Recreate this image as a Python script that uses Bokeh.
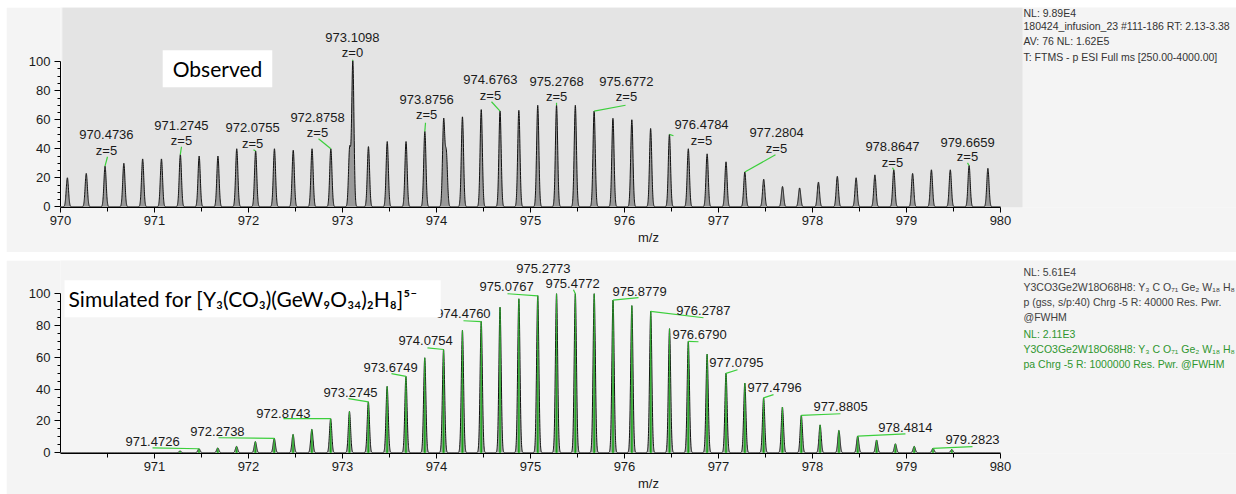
import numpy as np
from bokeh.plotting import figure
from bokeh.models import Range1d, FixedTicker, Label, BoxAnnotation
from bokeh.layouts import column
from bokeh.core.properties import value
from bokeh.embed import file_html
from bokeh.resources import INLINE

# ---------------- data: observed spectrum (peak centroids, relative intensity) ----------------
obs_mz = [970.073, 970.274, 970.474, 970.674, 970.874, 971.074, 971.275, 971.475, 971.675, 971.875,
          972.076, 972.276, 972.476, 972.676, 972.876, 973.076, 973.110, 973.276, 973.476, 973.676,
          973.876, 974.076, 974.105, 974.276, 974.476, 974.676, 974.876, 975.077, 975.277, 975.477,
          975.677, 975.877, 976.078, 976.278, 976.478, 976.679, 976.879, 977.080, 977.280, 977.481,
          977.681, 977.863, 978.063, 978.264, 978.464, 978.664, 978.865, 979.065, 979.265, 979.466,
          979.666, 979.866]
obs_int = [20, 23, 28, 30, 33, 33, 36, 35, 35, 40,
           38.5, 40, 39, 40, 40, 40, 100, 41.5, 45, 45,
           52, 59, 36, 62, 67, 66, 66.5, 70, 70, 70,
           66, 61, 60, 54, 50, 40, 36.5, 31, 24, 19,
           14, 13, 17, 21, 20, 22, 25.5, 23, 25.5, 25.5,
           28.5, 26.5]
obs_label_mz = ["970.4736", "971.2745", "972.0755", "972.8758", "973.1098", "973.8756", "974.6763",
                "975.2768", "975.6772", "976.4784", "977.2804", "978.8647", "979.6659"]
obs_label_z = ["z=5", "z=5", "z=5", "z=5", "z=0", "z=5", "z=5", "z=5", "z=5", "z=5", "z=5", "z=5", "z=5"]

# ---------------- data: simulated spectrum ----------------
sim_mz = [971.272, 971.473, 971.673, 971.873, 972.073, 972.274, 972.474, 972.674, 972.874, 973.074,
          973.275, 973.475, 973.675, 973.875, 974.075, 974.276, 974.476, 974.676, 974.876, 975.077,
          975.277, 975.477, 975.678, 975.878, 976.078, 976.279, 976.479, 976.679, 976.879, 977.080,
          977.280, 977.480, 977.680, 977.881, 978.081, 978.281, 978.481, 978.682, 978.882, 979.082,
          979.282, 979.482]
sim_int = [1, 2.5, 3, 4, 7, 9, 11.5, 14.7, 21.4, 26,
           32, 41.7, 48, 59.7, 65, 77, 82.5, 91.5, 96.8, 98.8,
           100, 100, 100, 96, 92.5, 89, 78, 70, 62, 50,
           43.8, 34.5, 28.7, 23.5, 17.5, 14, 10.5, 8, 5.6, 4,
           2.7, 2]
sim_label_mz = ["971.4726", "972.2738", "972.8743", "973.2745", "973.6749", "974.0754", "974.4760",
                "975.0767", "975.2773", "975.4772", "975.8779", "976.2787", "976.6790", "977.0795",
                "977.4796", "977.8805", "978.4814", "979.2823"]

# axis ticks
top_x_ticks = [970, 971, 972, 973, 974, 975, 976, 977, 978, 979, 980]
bot_x_ticks = [971, 972, 973, 974, 975, 976, 977, 978, 979, 980]
x_minor_ticks = [970.5, 971.5, 972.5, 973.5, 974.5, 975.5, 976.5, 977.5, 978.5, 979.5]
y_ticks = [0, 20, 40, 60, 80, 100]
y_minor_ticks = [5, 10, 15, 25, 30, 35, 45, 50, 55, 65, 70, 75, 85, 90, 95]

top_info = ["NL: 9.89E4",
            "180424_infusion_23 #111-186  RT: 2.13-3.38",
            "AV: 76 NL: 1.62E5",
            " T: FTMS - p ESI Full ms [250.00-4000.00]"]
bot_info = ["NL: 5.61E4",
            "Y3CO3Ge2W18O68H8:  Y\u2083 C O\u2087\u2081 Ge\u2082 W\u2081\u2088 H\u2088",
            "p (gss, s/p:40) Chrg -5 R: 40000 Res. Pwr.",
            "@FWHM",
            "NL: 2.11E3",
            "Y3CO3Ge2W18O68H8:  Y\u2083 C O\u2087\u2081 Ge\u2082 W\u2081\u2088 H\u2088",
            "pa Chrg -5 R: 1000000 Res. Pwr. @FWHM"]

# ---------------- layout of annotations (data units) ----------------
obs_lab_x = [970.489, 971.287, 972.043, 972.734, 973.106, 973.894, 974.574, 975.277, 976.021,
             976.819, 977.617, 978.851, 979.649]
obs_lab_y1 = [49.7, 55.9, 54.5, 61.4, 116.6, 73.8, 87.6, 86.2, 86.2, 56.6, 51.0, 41.4, 44.1]
obs_lab_y2 = [38.6, 45.5, 43.5, 51.0, 106.2, 63.4, 76.6, 75.9, 75.9, 45.5, 40.0, 30.3, 34.5]
obs_lead_x = [970.500, 971.287, 972.053, 972.745, 973.106, 973.883, 974.585, 975.277, 976.011,
              976.521, 977.606, 978.851, 979.649]
obs_lead_y = [34.5, 41.4, 39.3, 46.9, 101.4, 57.9, 72.4, 71.7, 70.0, 49.0, 35.9, 26.9, 30.3]
top_info_y = [133.4, 124.4, 114.0, 103.6]

sim_lab_x = [970.979, 971.670, 972.372, 973.085, 973.511, 973.883, 974.287, 974.745, 975.138,
             975.447, 976.160, 976.840, 976.798, 977.191, 977.596, 978.298, 978.989, 979.702]
sim_lab_y = [7.1, 13.2, 24.5, 37.7, 53.5, 70.4, 87.4, 104.4, 115.6,
             106.3, 101.3, 89.3, 74.2, 56.6, 40.9, 28.9, 15.7, 8.2]
sim_lead_x = [970.979, 971.681, 972.372, 973.064, 973.521, 973.904, 974.287, 974.755, None,
              975.457, 976.149, 976.840, 976.787, 977.202, 977.585, 978.298, 978.989, 979.702]
sim_lead_y = [3.1, 9.4, 21.4, 34.0, 49.7, 66.0, 83.0, 100.0, None,
              102.5, 97.5, 84.9, 69.8, 52.2, 36.5, 24.5, 11.9, 3.8]
bot_info_y = [113.8, 104.4, 95.0, 85.5, 74.8, 65.4, 56.0]
bot_info_colors = ["#404040"] * 4 + ["#2f962f"] * 3

# ---------------- styling constants ----------------
PANEL = "#f4f4f4"
PLOTBG = "#e4e4e4"
TXT = "#1a1a1a"
LEAD = "#3ccf3c"
FONT = "Liberation Sans"
X_END = 970 + (1236 - 60) / 94.0   # frame runs to the right edge of the page
INFO_X = 970 + (1023 - 60) / 94.0

grid = np.arange(970.0, 980.0005, 0.001)


def profile(centers, heights, sigma):
    c = np.asarray(centers, dtype=float)[:, None]
    h = np.asarray(heights, dtype=float)[:, None]
    return (h * np.exp(-0.5 * ((grid[None, :] - c) / sigma) ** 2)).sum(axis=0)


def style_axes(p, xt):
    p.xaxis.ticker = FixedTicker(ticks=xt, minor_ticks=x_minor_ticks)
    p.yaxis.ticker = FixedTicker(ticks=y_ticks, minor_ticks=y_minor_ticks)
    p.xaxis.bounds = (970, 980)
    p.yaxis.bounds = (0, 100)
    for ax in (p.xaxis, p.yaxis):
        ax.axis_line_color = "black"
        ax.major_tick_line_color = "black"
        ax.minor_tick_line_color = "black"
        ax.major_tick_in = 0
        ax.minor_tick_in = 0
        ax.major_label_text_font = FONT
        ax.major_label_text_font_size = "13px"
        ax.major_label_text_color = TXT
    p.xaxis.major_tick_out = 5
    p.xaxis.minor_tick_out = 4
    p.xaxis.major_label_standoff = 3
    p.xaxis.axis_label = "m/z"
    p.xaxis.axis_label_text_font = FONT
    p.xaxis.axis_label_text_font_size = "13px"
    p.xaxis.axis_label_text_font_style = "normal"
    p.xaxis.axis_label_text_color = TXT
    p.xaxis.axis_label_standoff = 2
    p.yaxis.major_tick_out = 6
    p.yaxis.minor_tick_out = 3
    p.yaxis.major_label_standoff = 4
    p.xgrid.visible = False
    p.ygrid.visible = False
    p.outline_line_color = None


# ================= top panel: observed =================
p1 = figure(width=1230, height=245, x_range=Range1d(970, X_END), y_range=Range1d(-0.5, 137.4),
            output_backend="svg", toolbar_location=None,
            min_border_left=54, min_border_right=0, min_border_top=0, min_border_bottom=45)
p1.margin = (7, 0, 0, 6)
p1.background_fill_color = PANEL
p1.border_fill_color = PANEL
style_axes(p1, top_x_ticks)
p1.add_layout(BoxAnnotation(left=970.02, right=980.234, bottom=-0.5, top=137.4, fill_color=PLOTBG,
                            fill_alpha=1.0, line_alpha=0, level="underlay"))

obs_prof = profile(obs_mz, obs_int, 0.012)
p1.varea(x=grid, y1=0, y2=obs_prof, fill_color="#9a9a9a")
p1.line(grid, obs_prof, line_color="#111111", line_width=1)

obs_end_y = np.interp([float(s) for s in obs_label_mz], grid, obs_prof)
p1.segment(x0=obs_lead_x, y0=obs_lead_y, x1=[float(s) for s in obs_label_mz], y1=list(obs_end_y),
           line_color=LEAD, line_width=1.2)
p1.text(x=obs_lab_x, y=obs_lab_y1, text=obs_label_mz, text_font=value(FONT), text_font_size="13px",
        text_color=TXT, text_align="center", text_baseline="middle")
p1.text(x=obs_lab_x, y=obs_lab_y2, text=obs_label_z, text_font=value(FONT), text_font_size="13px",
        text_color=TXT, text_align="center", text_baseline="middle")

p1.add_layout(Label(x=971.670, y=95.2, text="Observed", text_font="Lato", text_font_size="21px",
                    text_color="black", text_align="center", text_baseline="middle",
                    background_fill_color="white",
                    padding=dict(left=10, right=10, top=6, bottom=6)))
for t, yy in zip(top_info, top_info_y):
    p1.add_layout(Label(x=INFO_X, y=yy, text=t, text_font=FONT, text_font_size="10.5px",
                        text_color="#333333", text_align="left", text_baseline="middle"))

# ================= bottom panel: simulated =================
p2 = figure(width=1230, height=234, x_range=Range1d(970, X_END), y_range=Range1d(-0.5, 120.9),
            output_backend="svg", toolbar_location=None,
            min_border_left=54, min_border_right=0, min_border_top=0, min_border_bottom=41)
p2.margin = (8, 0, 0, 6)
p2.background_fill_color = PANEL
p2.border_fill_color = PANEL
style_axes(p2, bot_x_ticks)

sim_prof = profile(sim_mz, sim_int, 0.012)
p2.varea(x=grid, y1=0, y2=sim_prof, fill_color="#a8a8a8")
p2.line(grid, sim_prof, line_color="#111111", line_width=1)
stick_xs = [[m - 0.008, m, m + 0.008] for m in sim_mz]
stick_ys = [[0, h, 0] for h in sim_int]
p2.patches(xs=stick_xs, ys=stick_ys, fill_color="#128a12", line_color="#2fc42f", line_width=0.6)

sim_end_y = np.interp([float(s) for s in sim_label_mz], grid, sim_prof)
lx0, ly0, lx1, ly1 = [], [], [], []
for i, s in enumerate(sim_label_mz):
    if sim_lead_x[i] is None:
        continue
    lx0.append(sim_lead_x[i]); ly0.append(sim_lead_y[i])
    lx1.append(float(s)); ly1.append(float(sim_end_y[i]))
p2.segment(x0=lx0, y0=ly0, x1=lx1, y1=ly1, line_color=LEAD, line_width=1.2)
p2.text(x=sim_lab_x, y=sim_lab_y, text=sim_label_mz, text_font=value(FONT), text_font_size="13px",
        text_color=TXT, text_align="center", text_baseline="middle")

p2.add_layout(Label(x=970.043, y=96.9,
                    text="Simulated for [Y\u2083(CO\u2083)(GeW\u2089O\u2083\u2084)\u2082H\u2088]\u2075\u207b",
                    text_font="Lato", text_font_size="21px", text_color="black",
                    text_align="left", text_baseline="middle", background_fill_color="white",
                    padding=dict(left=4, right=23, top=6, bottom=6)))
for t, yy, cc in zip(bot_info, bot_info_y, bot_info_colors):
    p2.add_layout(Label(x=INFO_X, y=yy, text=t, text_font=FONT, text_font_size="10.5px",
                        text_color=cc, text_align="left", text_baseline="middle"))

layout = column(p1, p2)
open("out.html", "w").write(file_html(layout, INLINE))
